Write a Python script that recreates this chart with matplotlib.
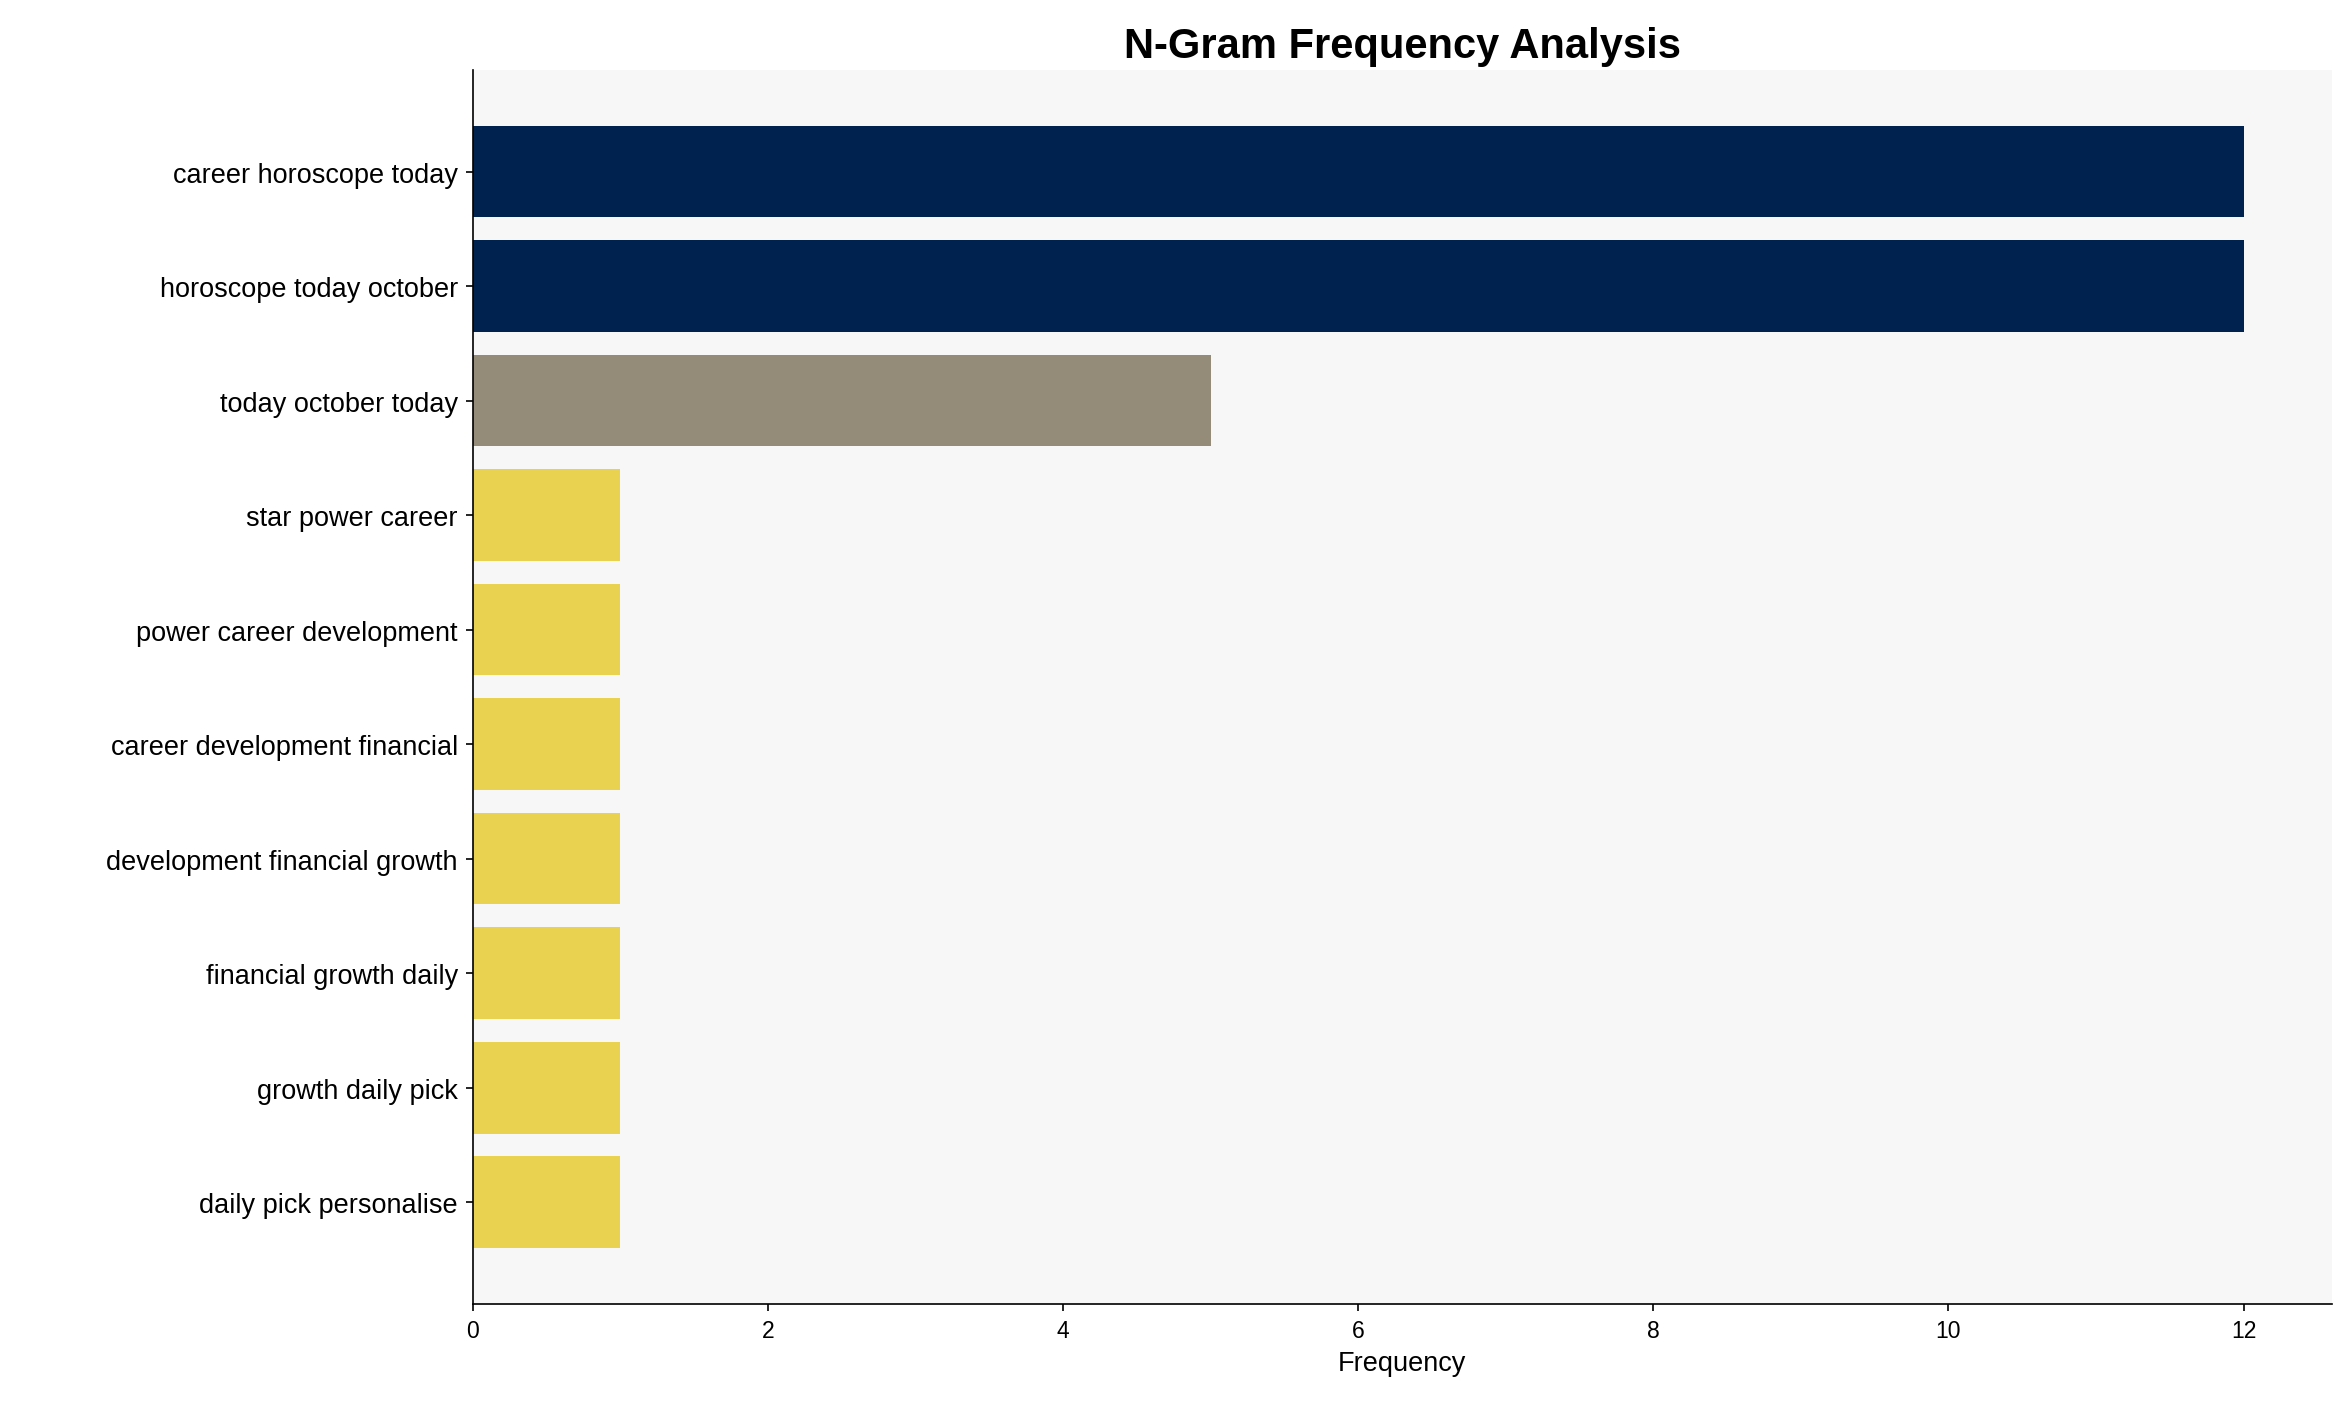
import matplotlib
matplotlib.use("Agg")
import matplotlib.pyplot as plt

plt.rcParams["font.family"] = ["Liberation Sans", "DejaVu Sans"]

ngrams = [
    "career horoscope today",
    "horoscope today october",
    "today october today",
    "star power career",
    "power career development",
    "career development financial",
    "development financial growth",
    "financial growth daily",
    "growth daily pick",
    "daily pick personalise",
]
counts = [12, 12, 5, 1, 1, 1, 1, 1, 1, 1]
bar_colors = ["#00224e", "#00224e", "#948c78", "#e8d24f", "#e8d24f",
              "#e8d24f", "#e8d24f", "#e8d24f", "#e8d24f", "#e8d24f"]

fig = plt.figure(figsize=(2351 / 150, 1414 / 150), dpi=150)
ax = fig.add_axes([0.201, 0.077, 0.791, 0.873])
ax.set_facecolor("#f7f7f7")

ax.barh(ngrams, counts, color=bar_colors, height=0.8)
ax.invert_yaxis()
ax.set_xlim(0, 12.6)
ax.set_xticks([0, 2, 4, 6, 8, 10, 12])
ax.set_xlabel("Frequency", fontsize=13)
ax.set_title("N-Gram Frequency Analysis", fontsize=20, fontweight="bold")
ax.tick_params(axis="y", labelsize=13)
ax.tick_params(axis="x", labelsize=11)
for side in ["top", "right"]:
    ax.spines[side].set_visible(False)

fig.savefig("out.png", dpi=150)
